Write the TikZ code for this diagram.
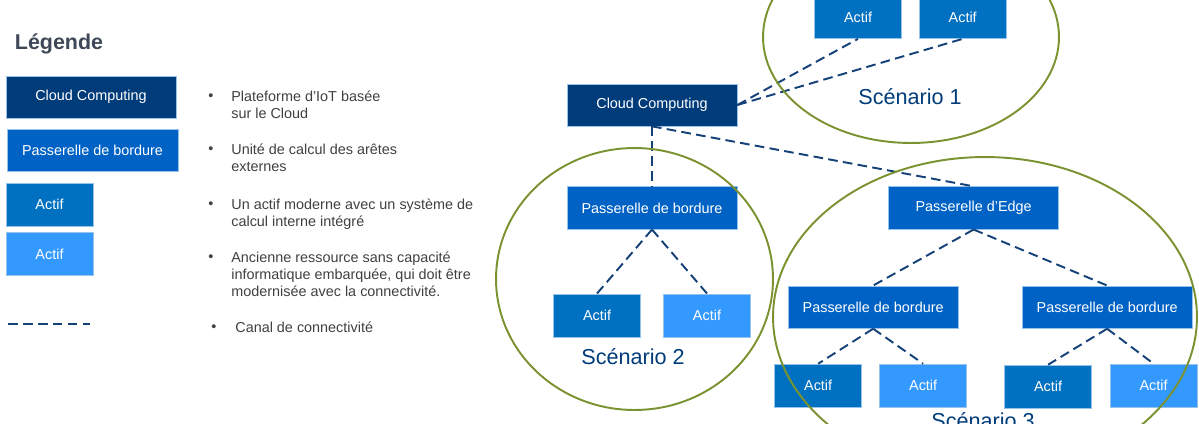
\documentclass[tikz,border=0pt]{standalone}
\usepackage{fontspec}
\setmainfont{Liberation Sans}
\usetikzlibrary{positioning}

\definecolor{navy}{RGB}{0,59,122}
\definecolor{passblue}{RGB}{0,98,196}
\definecolor{actblue}{RGB}{0,112,192}
\definecolor{actlight}{RGB}{51,153,255}
\definecolor{boxline}{RGB}{150,195,235}
\definecolor{olive}{RGB}{122,146,48}
\definecolor{linkblue}{RGB}{20,65,120}
\definecolor{txtgray}{RGB}{64,64,64}
\definecolor{titlegray}{RGB}{62,72,86}

\tikzset{
box/.style={draw=boxline, line width=0.4pt, inner sep=0pt, text=white, font=\fontsize{8.2}{9.5}\selectfont}, % common look of all boxes
cloudbox/.style={box, fill=navy, minimum width=3.4cm, minimum height=0.84cm}, % cloud platform
gwbox/.style={box, fill=passblue, minimum width=3.4cm, minimum height=0.85cm}, % gateways
assetbox/.style={box, fill=actblue, minimum width=1.74cm, minimum height=0.86cm}, % modern asset
oldasset/.style={box, fill=actlight, minimum width=1.74cm, minimum height=0.86cm}, % legacy asset
link/.style={draw=linkblue, line width=1.1pt, dash pattern=on 5.5pt off 3pt}, % connectivity channel
scen/.style={draw=olive, line width=1.1pt}, % scenario outline
scenlabel/.style={text=navy, inner sep=0pt, font=\fontsize{12.3}{14}\selectfont},
legtext/.style={anchor=north west, align=left, inner sep=0pt, text=txtgray, font=\fontsize{8.2}{9.5}\selectfont},
puce/.style={inner sep=0pt, text=txtgray, font=\fontsize{8.2}{9.5}\selectfont},
}

\begin{document}
\begin{tikzpicture}[x=0.02cm, y=-0.02cm]
\useasboundingbox (0,0) rectangle (1199,423);

% legend
\node[text=titlegray, font=\fontsize{12.2}{14}\selectfont\bfseries] (titre) at (59,44) {Légende};
\node[cloudbox] (lcc) at (91,97) {Cloud Computing};
\node[gwbox, minimum width=3.42cm] (lpb) at (92.5,150.5) {Passerelle de bordure};
\node[assetbox] (lac) at (49.5,204.5) {Actif};
\node[oldasset] (lold) at (49.5,254) {Actif};
\coordinate (l1) at (8,324);
\coordinate (l2) at (90,324);
\draw[link] (l1) -- (l2);

\node[puce] (b1) at (211,97) {•};
\node[legtext] (t1) at (231,91) {Plateforme d’IoT basée\\sur le Cloud};
\node[puce] (b2) at (211,150) {•};
\node[legtext] (t2) at (231,144) {Unité de calcul des arêtes\\externes};
\node[puce] (b3) at (211,205) {•};
\node[legtext] (t3) at (231,199) {Un actif moderne avec un système de\\calcul interne intégré};
\node[puce] (b4) at (211,258) {•};
\node[legtext] (t4) at (231,252) {Ancienne ressource sans capacité\\informatique embarquée, qui doit être\\modernisée avec la connectivité.};
\node[puce] (b5) at (214,328) {•};
\node[legtext] (t5) at (235,322) {Canal de connectivité};

% scenarios
\node[cloudbox] (cc) at (652,105) {Cloud Computing};
\node[assetbox] (a11) at (858,17) {Actif};
\node[assetbox, right=0.34cm of a11] (a12) {Actif};

\node[gwbox, below=1.2cm of cc] (pb2) {Passerelle de bordure};
\node[assetbox, below=1.28cm of pb2, xshift=-1.1cm] (a21) {Actif};
\node[oldasset, below=1.28cm of pb2, xshift=1.1cm] (a22) {Actif};

\node[gwbox, right=3.02cm of pb2] (pe) {Passerelle d’Edge};
\node[gwbox, below=1.12cm of pe, xshift=-2.01cm] (pb3a) {Passerelle de bordure};
\node[gwbox, below=1.12cm of pe, xshift=2.67cm] (pb3b) {Passerelle de bordure};
\node[assetbox, below=0.7cm of pb3a, xshift=-1.1cm] (a31) {Actif};
\node[oldasset, below=0.7cm of pb3a, xshift=1.0cm] (a32) {Actif};
\node[assetbox, below=0.72cm of pb3b, xshift=-1.18cm] (a33) {Actif};
\node[oldasset, below=0.7cm of pb3b, xshift=0.93cm] (a34) {Actif};

\draw[link] (cc.east) -- (a11.south);
\draw[link] (cc.east) -- (a12.south);
\draw[link] (cc.south) -- (pb2.north);
\draw[link] (cc.south) -- (pe.north);
\draw[link] (pb2.south) -- (a21.north);
\draw[link] (pb2.south) -- (a22.north);
\draw[link] (pe.south) -- (pb3a.north);
\draw[link] (pe.south) -- (pb3b.north);
\draw[link] (pb3a.south) -- (a31.north);
\draw[link] (pb3a.south) -- (a32.north);
\draw[link] (pb3b.south) -- (a33.north);
\draw[link] (pb3b.south) -- (a34.north);

\draw[scen] (911,37) ellipse [x radius=2.96cm, y radius=2.12cm];
\draw[scen] (634.5,279) ellipse [x radius=2.77cm, y radius=2.62cm];
\draw[scen] (985,317) ellipse [x radius=4.24cm, y radius=3.2cm];

\node[scenlabel] (s1) at (910,97) {Scénario 1};
\node[scenlabel] (s2) at (633,357) {Scénario 2};
\node[scenlabel] (s3) at (983,421) {Scénario 3};
\end{tikzpicture}
\end{document}
